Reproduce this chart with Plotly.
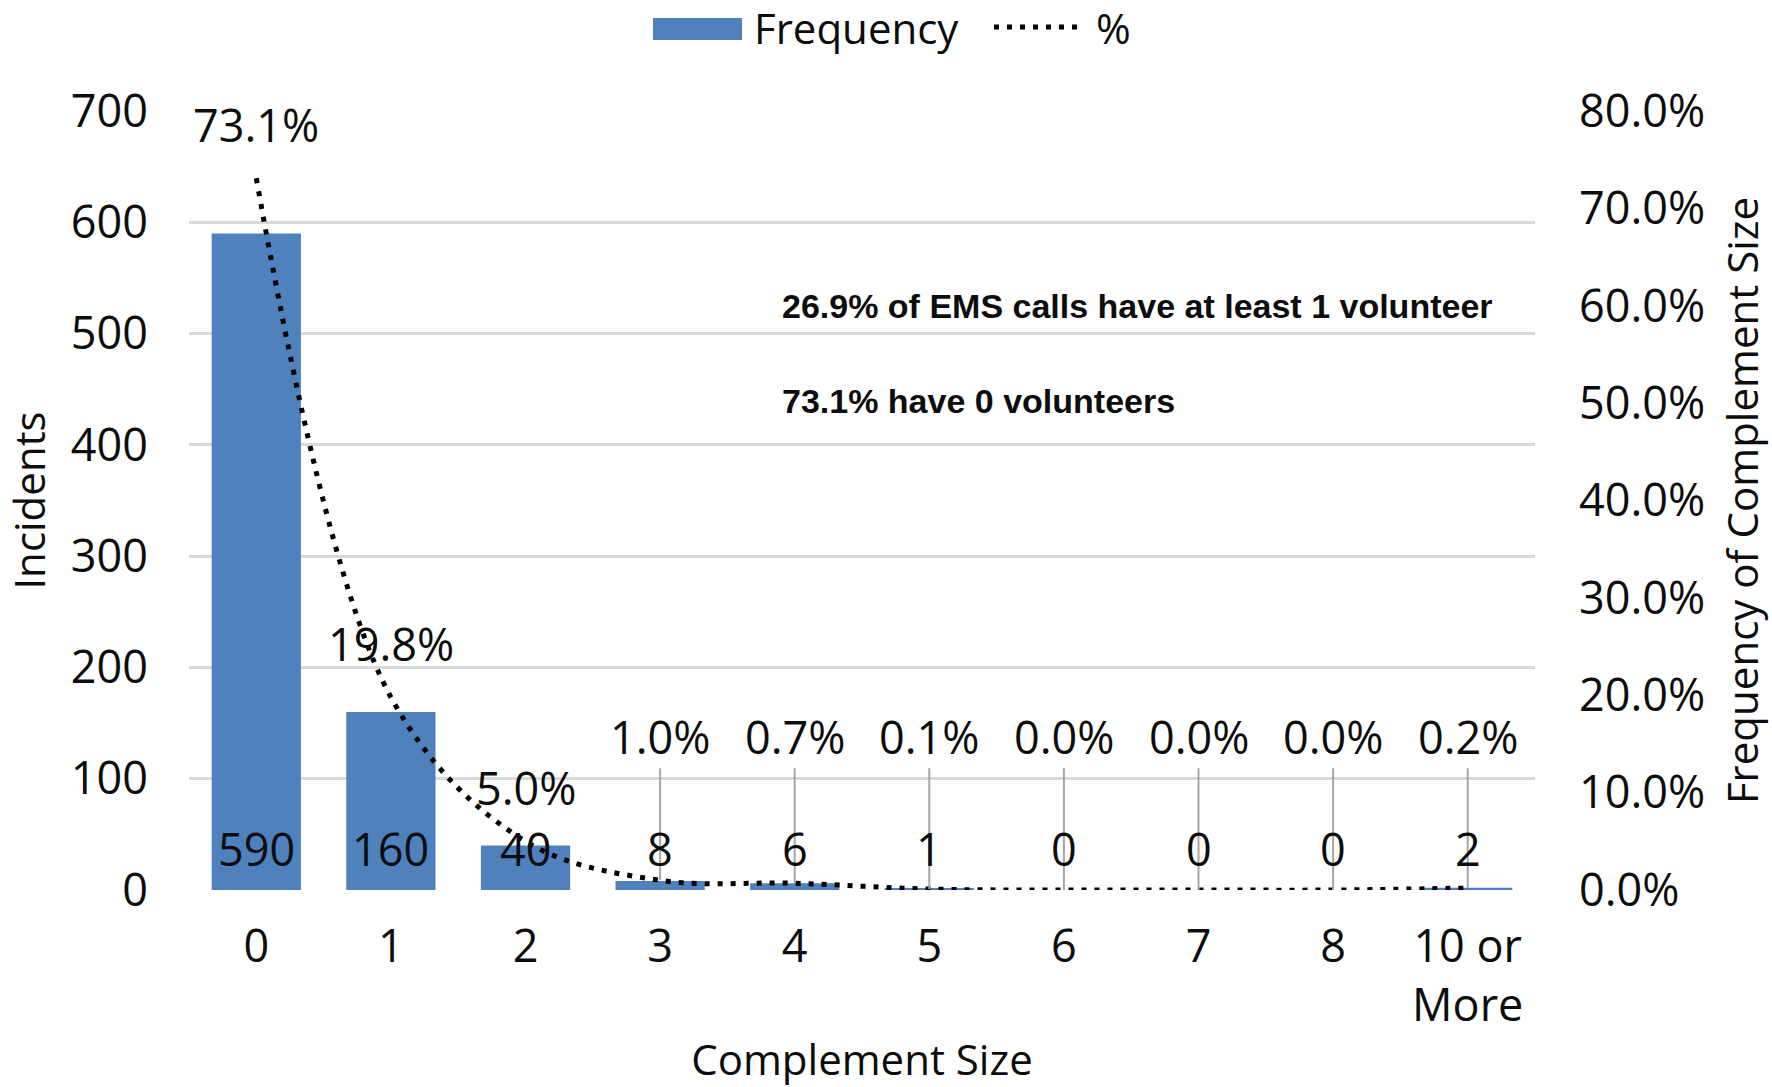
import plotly.graph_objects as go

# Complement size distribution of EMS incidents
categories = ["0", "1", "2", "3", "4", "5", "6", "7", "8", "10 or More"]
tick_labels = ["0", "1", "2", "3", "4", "5", "6", "7", "8", "10 or<br>More"]
frequency = [590, 160, 40, 8, 6, 1, 0, 0, 0, 2]
percent = [73.1, 19.8, 5.0, 1.0, 0.7, 0.1, 0.0, 0.0, 0.0, 0.2]

note_lines = [
    "26.9% of EMS calls have at least 1 volunteer",
    "73.1% have 0 volunteers",
]

FONT = "Open Sans"
TXT = "#0d0d0d"
BAR = "#4F81BD"
GRID = "#D9D9D9"
FS = 45
TITLE_FS = 42
LEG_FS = 42

W, H = 1772, 1087
L, R, T, B = 189, 237, 111, 197

x = list(range(len(categories)))
pct_frac = [p / 100 for p in percent]


def px_x(px):
    return (px - L) / (W - L - R)


def px_y(py):
    return (H - B - py) / (H - T - B)


fig = go.Figure()
fig.add_trace(go.Bar(
    x=x, y=frequency, name="Frequency",
    marker=dict(color=BAR, line=dict(width=0)),
    yaxis="y", showlegend=False,
))
fig.add_trace(go.Scatter(
    x=x, y=pct_frac, name="%", mode="lines",
    line=dict(color="#000000", width=5, dash="5px,8px", shape="spline", smoothing=1.0),
    yaxis="y2", showlegend=False,
))

annotations = []
# percentage labels: first three sit above the line, the rest are lifted with leader lines
for i, p in enumerate(percent):
    label = f"{p:.1f}%"
    if i < 3:
        annotations.append(dict(
            x=i, y=pct_frac[i], xref="x", yref="y2", text=label,
            showarrow=False, yshift=54,
            font=dict(family=FONT, size=FS, color=TXT),
        ))
    else:
        annotations.append(dict(
            x=i, y=pct_frac[i], xref="x", yref="y2", text=label,
            showarrow=True, arrowhead=0, arrowwidth=2, arrowcolor="#A6A6A6",
            axref="x", ayref="y2", ax=i, ay=0.158, standoff=0,
            font=dict(family=FONT, size=FS, color=TXT),
        ))

# bar value labels at the base of each column
for i, v in enumerate(frequency):
    annotations.append(dict(
        x=i, y=37.7, xref="x", yref="y", text=str(v), showarrow=False,
        font=dict(family=FONT, size=FS, color=TXT),
    ))

# notes
for text, py in zip(note_lines, [306, 401]):
    annotations.append(dict(
        x=px_x(780), y=px_y(py), xref="paper", yref="paper", text=f"<b>{text}</b>",
        xanchor="left", yanchor="middle", showarrow=False,
        font=dict(family="Liberation Sans", size=34, color=TXT),
    ))

# legend entries
annotations.append(dict(
    x=px_x(752), y=px_y(28), xref="paper", yref="paper", text="Frequency",
    xanchor="left", yanchor="middle", showarrow=False,
    font=dict(family=FONT, size=LEG_FS, color=TXT),
))
annotations.append(dict(
    x=px_x(1094), y=px_y(28), xref="paper", yref="paper", text="%",
    xanchor="left", yanchor="middle", showarrow=False,
    font=dict(family=FONT, size=LEG_FS, color=TXT),
))

shapes = [
    dict(type="rect", xref="paper", yref="paper",
         x0=px_x(653), x1=px_x(742), y0=px_y(40), y1=px_y(18),
         fillcolor=BAR, line=dict(width=0)),
    dict(type="line", xref="paper", yref="paper",
         x0=px_x(994), x1=px_x(1083), y0=px_y(27), y1=px_y(27),
         line=dict(color="#000000", width=5, dash="5px,8px")),
]

fig.update_layout(
    width=W, height=H, autosize=False,
    margin=dict(l=L, r=R, t=T, b=B),
    paper_bgcolor="white", plot_bgcolor="white",
    font=dict(family=FONT, size=FS, color=TXT),
    bargap=0.337,
    showlegend=False,
    xaxis=dict(
        range=[-0.5, len(categories) - 0.5],
        tickvals=x, ticktext=tick_labels,
        showgrid=False, zeroline=False, showline=False, ticks="",
        tickfont=dict(family=FONT, size=FS, color=TXT),
        ticklabelstandoff=26, automargin=False,
        title=dict(text="Complement Size", font=dict(family=FONT, size=TITLE_FS, color=TXT), standoff=23),
    ),
    yaxis=dict(
        range=[0, 700], dtick=100,
        showgrid=True, gridcolor=GRID, gridwidth=2.5,
        zeroline=False, showline=False, ticks="",
        tickfont=dict(family=FONT, size=FS, color=TXT),
        ticklabelstandoff=40, automargin=False,
        title=dict(text="Incidents", font=dict(family=FONT, size=TITLE_FS, color=TXT), standoff=13),
    ),
    yaxis2=dict(
        range=[0, 0.8], dtick=0.1, tickformat=".1%",
        overlaying="y", side="right",
        showgrid=False, zeroline=False, showline=False, ticks="",
        tickfont=dict(family=FONT, size=FS, color=TXT),
        ticklabelstandoff=43, automargin=False,
        title=dict(text="Frequency of Complement Size", font=dict(family=FONT, size=TITLE_FS, color=TXT), standoff=24),
    ),
    annotations=annotations,
    shapes=shapes,
)

fig.write_html("out.html")
